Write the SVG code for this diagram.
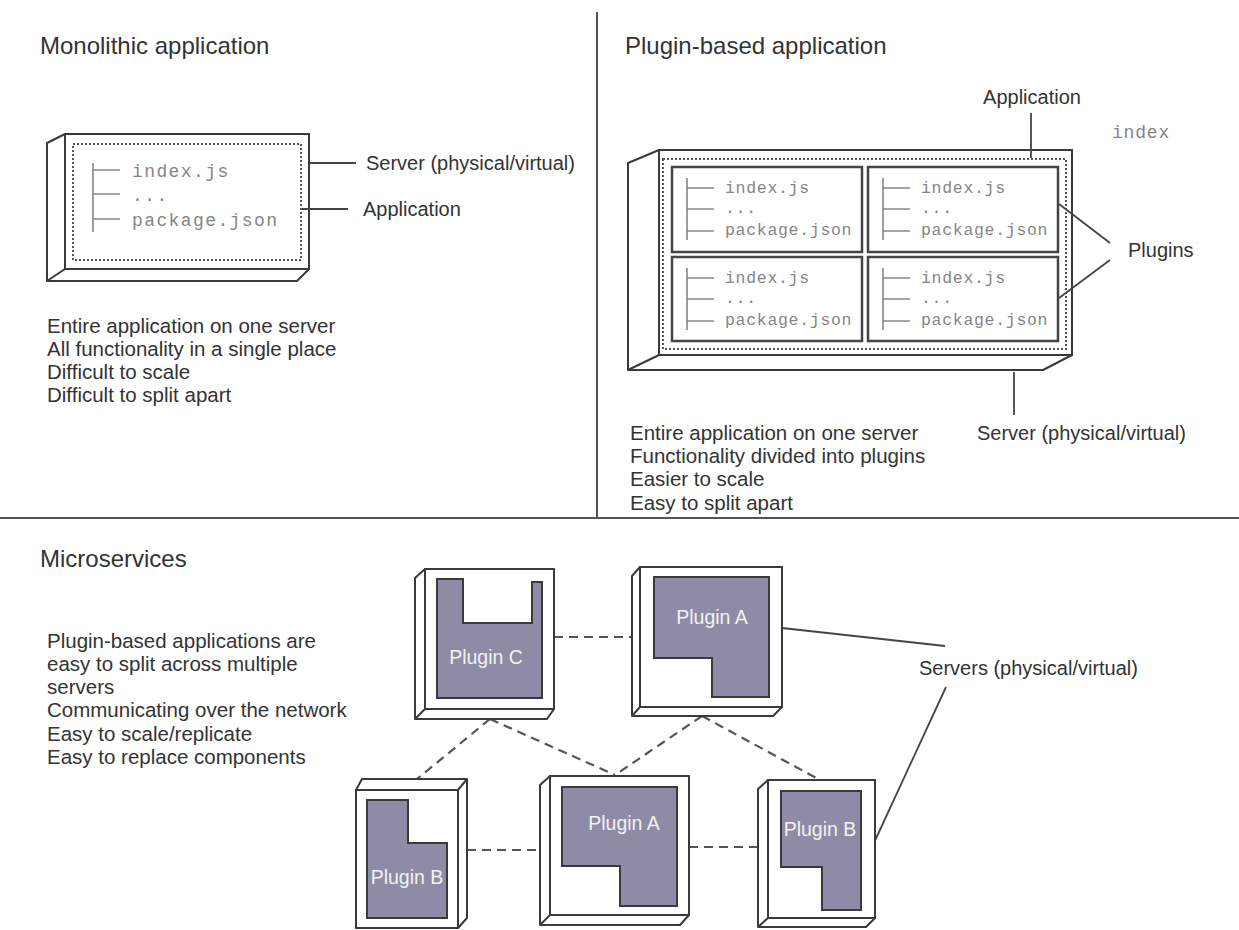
<svg xmlns="http://www.w3.org/2000/svg" width="1239" height="930" viewBox="0 0 1239 930">
<style>
.bg{fill:#fff}
.title{font-family:"Liberation Sans",Arial,sans-serif;font-size:24px;fill:#333}
.body{font-family:"Liberation Sans",Arial,sans-serif;font-size:20.5px;fill:#333}
.lbl{font-family:"Liberation Sans",Arial,sans-serif;font-size:20px;fill:#333}
.mono{font-family:"Liberation Mono","Courier New",monospace;fill:#858585}
.m1{font-size:18px;letter-spacing:1.4px}
.m2{font-size:16.5px;letter-spacing:0.7px}
.plug{font-family:"Liberation Sans",Arial,sans-serif;font-size:19.5px;fill:#f2f2f2;text-anchor:middle}
.box{fill:#fff;stroke:#3a3a3a;stroke-width:2;stroke-linejoin:round}
.edge{stroke:#3a3a3a;stroke-width:2;fill:none}
.dot{fill:none;stroke:#555;stroke-width:2;stroke-dasharray:2 2}
.pbox{fill:#fff;stroke:#444;stroke-width:2.5}
.tree{stroke:#858585;stroke-width:1.6;fill:none}
.shape{fill:#8e8ba6;stroke:#3a3a3a;stroke-width:2}
.div{stroke:#555;stroke-width:2}
.lead{stroke:#444;stroke-width:1.8;fill:none}
.dash{stroke:#555;stroke-width:2.2;fill:none;stroke-dasharray:9 6}
</style>
<rect class="bg" x="0" y="0" width="1239" height="930"/>

<g id="dividers">
<line class="div" x1="597" y1="12" x2="597" y2="518"/>
<line class="div" x1="0" y1="518" x2="1239" y2="518"/>
</g>

<g id="titles">
<text class="title" x="40" y="54">Monolithic application</text>
<text class="title" x="625" y="54">Plugin-based application</text>
<text class="title" x="40" y="567">Microservices</text>
</g>

<g id="monolithic-server">
<polygon class="box" points="47,143 65,134 309,134 309,269 297,281 47,281"/>
<rect class="box" x="65" y="134" width="244" height="135"/>
<line class="edge" x1="65" y1="269" x2="47" y2="281"/>
</g>
<g id="monolithic-app">
<rect class="dot" x="73" y="144" width="228" height="116"/>
<path class="tree" d="M93 163V232M93 170H120M93 194H120M93 219H120"/>
<text class="mono m1" x="132" y="177">index.js</text>
<text class="mono m1" x="132" y="201">...</text>
<text class="mono m1" x="132" y="226">package.json</text>
</g>
<g id="monolithic-labels">
<text class="lbl" x="366" y="170">Server (physical/virtual)</text>
<text class="lbl" x="363" y="216">Application</text>
</g>
<g id="monolithic-text">
<text class="body" x="47" y="333">Entire application on one server</text>
<text class="body" x="47" y="356">All functionality in a single place</text>
<text class="body" x="47" y="379">Difficult to scale</text>
<text class="body" x="47" y="402">Difficult to split apart</text>
</g>

<g id="plugin-server">
<polygon class="box" points="628,163 659,150 1072,150 1072,355 1043,370 628,370"/>
<rect class="box" x="659" y="150" width="413" height="205"/>
<line class="edge" x1="659" y1="355" x2="628" y2="370"/>
<rect class="dot" x="663" y="159" width="403" height="190"/>
</g>
<g id="plugin-1">
<rect class="pbox" x="672" y="167" width="190" height="85"/>
<path class="tree" d="M687 178V240M687 188H714M687 209H714M687 231H714"/>
<text class="mono m2" x="725" y="193">index.js</text>
<text class="mono m2" x="725" y="213">...</text>
<text class="mono m2" x="725" y="235">package.json</text>
</g>
<g id="plugin-2">
<rect class="pbox" x="868" y="167" width="190" height="85"/>
<path class="tree" d="M883 178V240M883 188H910M883 209H910M883 231H910"/>
<text class="mono m2" x="921" y="193">index.js</text>
<text class="mono m2" x="921" y="213">...</text>
<text class="mono m2" x="921" y="235">package.json</text>
</g>
<g id="plugin-3">
<rect class="pbox" x="672" y="257" width="190" height="84"/>
<path class="tree" d="M687 268V330M687 278H714M687 299H714M687 321H714"/>
<text class="mono m2" x="725" y="283">index.js</text>
<text class="mono m2" x="725" y="303">...</text>
<text class="mono m2" x="725" y="325">package.json</text>
</g>
<g id="plugin-4">
<rect class="pbox" x="868" y="257" width="190" height="84"/>
<path class="tree" d="M883 268V330M883 278H910M883 299H910M883 321H910"/>
<text class="mono m2" x="921" y="283">index.js</text>
<text class="mono m2" x="921" y="303">...</text>
<text class="mono m2" x="921" y="325">package.json</text>
</g>
<g id="plugin-labels">
<text class="lbl" x="1032" y="104" text-anchor="middle">Application</text>
<text class="mono" font-size="18" letter-spacing="0.8" x="1112" y="138">index</text>
<text class="lbl" x="1128" y="257">Plugins</text>
<text class="lbl" x="977" y="440">Server (physical/virtual)</text>
</g>
<g id="plugin-text">
<text class="body" x="630" y="440">Entire application on one server</text>
<text class="body" x="630" y="463">Functionality divided into plugins</text>
<text class="body" x="630" y="486">Easier to scale</text>
<text class="body" x="630" y="510">Easy to split apart</text>
</g>

<g id="micro-text">
<text class="body" x="47" y="648">Plugin-based applications are</text>
<text class="body" x="47" y="671">easy to split across multiple</text>
<text class="body" x="47" y="694">servers</text>
<text class="body" x="47" y="717">Communicating over the network</text>
<text class="body" x="47" y="741">Easy to scale/replicate</text>
<text class="body" x="47" y="764">Easy to replace components</text>
</g>

<g id="connectors">
<line class="lead" x1="310" y1="163" x2="356" y2="163"/>
<line class="lead" x1="302" y1="209" x2="348" y2="209"/>
<line class="lead" x1="1031" y1="113" x2="1031" y2="158"/>
<line class="lead" x1="1059" y1="204" x2="1110" y2="243"/>
<line class="lead" x1="1059" y1="298" x2="1110" y2="260"/>
<line class="lead" x1="1014" y1="372" x2="1014" y2="415"/>
<line class="dash" x1="554" y1="637" x2="640" y2="637"/>
<line class="dash" x1="490" y1="719" x2="417" y2="779"/>
<line class="dash" x1="490" y1="719" x2="615" y2="775"/>
<line class="dash" x1="702" y1="716" x2="615" y2="775"/>
<line class="dash" x1="702" y1="716" x2="820" y2="780"/>
<line class="dash" x1="467" y1="850" x2="540" y2="850"/>
<line class="dash" x1="689" y1="847" x2="758" y2="847"/>
<line class="lead" x1="782" y1="628" x2="945" y2="646"/>
<line class="lead" x1="946" y1="687" x2="873" y2="845"/>
</g>
<g id="servers-label">
<text class="lbl" x="919" y="675">Servers (physical/virtual)</text>
</g>

<g id="server-c">
<polygon class="box" points="415,578 425,569 554,569 554,709 547,719 415,719"/>
<rect class="box" x="425" y="569" width="129" height="140"/>
<line class="edge" x1="425" y1="709" x2="415" y2="719"/>
<polygon class="shape" points="437,579 463,579 463,623 532,623 532,582 542,582 542,698 437,698"/>
<text class="plug" x="486" y="664">Plugin C</text>
</g>
<g id="server-a-top">
<polygon class="box" points="632,576 640,567 782,567 782,707 773,716 632,716"/>
<rect class="box" x="640" y="567" width="142" height="140"/>
<line class="edge" x1="640" y1="707" x2="632" y2="716"/>
<polygon class="shape" points="654,577 769,577 769,697 712,697 712,658 654,658"/>
<text class="plug" x="712" y="624">Plugin A</text>
</g>
<g id="server-b-left">
<polygon class="box" points="356,790 362,779 467,779 467,918 458,928 356,928"/>
<rect class="box" x="356" y="790" width="102" height="138"/>
<line class="edge" x1="458" y1="790" x2="467" y2="779"/>
<polygon class="shape" points="367,800 408,800 408,843 447,843 447,918 367,918"/>
<text class="plug" x="407" y="884">Plugin B</text>
</g>
<g id="server-a-bottom">
<polygon class="box" points="540,785 550,776 689,776 689,915 680,925 540,925"/>
<rect class="box" x="550" y="776" width="139" height="139"/>
<line class="edge" x1="550" y1="915" x2="540" y2="925"/>
<polygon class="shape" points="562,787 677,787 677,906 620,906 620,866 562,866"/>
<text class="plug" x="624" y="830">Plugin A</text>
</g>
<g id="server-b-right">
<polygon class="box" points="758,789 768,780 875,780 875,918 866,927 758,927"/>
<rect class="box" x="768" y="780" width="107" height="138"/>
<line class="edge" x1="768" y1="918" x2="758" y2="927"/>
<polygon class="shape" points="781,791 861,791 861,910 822,910 822,867 781,867"/>
<text class="plug" x="820" y="836">Plugin B</text>
</g>
</svg>
